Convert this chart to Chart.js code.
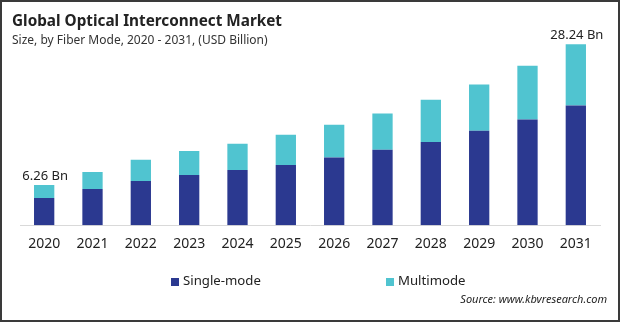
<!DOCTYPE html>
<html>
<head>
<meta charset="utf-8">
<script src="https://cdn.jsdelivr.net/npm/chart.js@4.4.0/dist/chart.umd.min.js"></script>
<style>
  html, body { margin: 0; padding: 0; background: #fff; }
  #wrap { width: 620px; height: 322px; position: relative; }
</style>
</head>
<body>
<div id="wrap"><canvas id="myChart" width="620" height="322"></canvas></div>
<script>
const years = ['2020', '2021', '2022', '2023', '2024', '2025', '2026', '2027', '2028', '2029', '2030', '2031'];
const singleMode = [4.24, 5.65, 6.90, 7.85, 8.63, 9.40, 10.56, 11.77, 13.00, 14.75, 16.50, 18.70];
const multimode = [2.02, 2.65, 3.30, 3.75, 4.07, 4.70, 5.10, 5.65, 6.60, 7.20, 8.40, 9.54];
const labelled = [0, 11];

const fontFamily = '"Noto Sans", "Open Sans", sans-serif';
const navy = 'rgb(43, 57, 144)';
const teal = 'rgb(80, 196, 208)';

// title, legend, source, total labels and frame
const extras = {
    id: 'extras',
    afterDraw(chart) {
        const c = chart.ctx;
        c.save();
        c.fillStyle = '#222';
        c.textAlign = 'left';
        c.textBaseline = 'alphabetic';
        c.font = 'bold 15.3px ' + fontFamily;
        c.fillText('Global Optical Interconnect Market', 12, 26);
        c.fillStyle = '#333';
        c.font = '12px ' + fontFamily;
        c.fillText('Size, by Fiber Mode, 2020 - 2031, (USD Billion)', 12, 44);

        // totals above chosen bars
        const top = chart.getDatasetMeta(1).data;
        c.font = '13px ' + fontFamily;
        c.fillStyle = '#222';
        c.textAlign = 'center';
        labelled.forEach(i => {
            const total = (singleMode[i] + multimode[i]).toFixed(2) + ' Bn';
            c.fillText(total, top[i].x + 1, top[i].y - 5);
        });

        // legend
        const legendX = [171, 386];
        c.textAlign = 'left';
        c.textBaseline = 'middle';
        c.font = '13.2px ' + fontFamily;
        chart.data.datasets.forEach((ds, i) => {
            c.fillStyle = ds.backgroundColor;
            c.fillRect(legendX[i], 278, 8, 8);
            c.fillStyle = '#222';
            c.fillText(ds.label, legendX[i] + 12, 281);
        });

        // source
        c.textAlign = 'right';
        c.textBaseline = 'alphabetic';
        c.font = 'italic 11px ' + fontFamily;
        c.fillStyle = '#222';
        c.fillText('Source: www.kbvresearch.com', 607, 303);

        // frame
        c.strokeStyle = '#3a3a3a';
        c.lineWidth = 2;
        c.strokeRect(1, 1, chart.width - 2, chart.height - 2);
        c.restore();
    }
};

new Chart(document.getElementById('myChart'), {
    type: 'bar',
    data: {
        labels: years,
        datasets: [
            { label: 'Single-mode', data: singleMode, backgroundColor: navy, barPercentage: 0.42, categoryPercentage: 1 },
            { label: 'Multimode', data: multimode, backgroundColor: teal, barPercentage: 0.42, categoryPercentage: 1 }
        ]
    },
    options: {
        responsive: false,
        animation: false,
        layout: { padding: { top: 33, left: 20, right: 20, bottom: 60 } },
        plugins: {
            legend: { display: false },
            tooltip: { enabled: false }
        },
        scales: {
            x: {
                stacked: true,
                grid: { display: false, drawTicks: false },
                border: { display: true, color: '#d9d9d9', width: 1 },
                ticks: { color: '#222', padding: 10, font: { family: fontFamily, size: 14 } }
            },
            y: {
                stacked: true,
                display: false,
                min: 0,
                max: 30
            }
        }
    },
    plugins: [extras]
});
</script>
</body>
</html>
